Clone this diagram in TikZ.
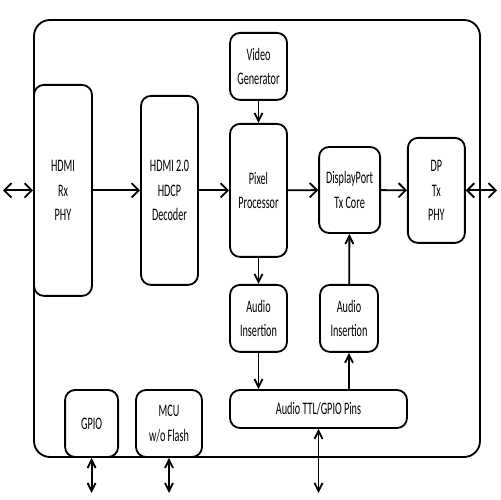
\documentclass[tikz,border=0pt]{standalone}
\usepackage{fontspec}
\setmainfont[FakeStretch=0.58]{Carlito}
\usetikzlibrary{arrows.meta}

\begin{document}
\begin{tikzpicture}[
    >={Straight Barb[length=1.8mm,width=3.6mm]},
    block/.style={draw,rounded corners=2.5mm,line width=1.3pt,align=center,inner sep=0,font=\fontsize{12.5}{17.5}\selectfont},
    tall/.style={block,minimum width=14.25mm},
    link/.style={line width=1.3pt},
    vlink/.style={link,>={Straight Barb[length=2mm,width=2mm]}}]

    \useasboundingbox (0,0) rectangle (12.5,12.5);
    \draw[link, rounded corners=4mm] (0.85,1.075) rectangle (12,12);

    \node[tall, minimum width=14.5mm, minimum height=52.75mm] (rxphy) at (1.575,7.74) {HDMI\\Rx\\PHY};
    \node[tall, minimum height=47.25mm] (hdcp) at (4.2375,7.74) {HDMI 2.0\\HDCP\\Decoder};
    \node[tall, minimum height=16.75mm] (vidgen) at (6.4625,10.84) {Video\\Generator};
    \node[tall, minimum height=33.25mm] (pixel) at (6.4625,7.74) {Pixel\\Processor};
    \node[tall, minimum height=16.75mm] (audl) at (6.4625,4.54) {Audio\\Insertion};
    \node[tall, minimum width=14.5mm, minimum height=16.75mm] (audr) at (8.725,4.54) {Audio\\Insertion};
    \node[tall, minimum width=15.25mm, minimum height=21.5mm] (txcore) at (8.74,7.75) {DisplayPort\\Tx Core};
    \node[tall, minimum height=26.25mm] (dpphy) at (10.91,7.74) {DP\\Tx\\PHY};
    \node[block, minimum width=44.25mm, minimum height=9.5mm] (pins) at (7.9625,2.275) {Audio TTL/GPIO Pins};
    \node[block, minimum width=13.25mm, minimum height=16.75mm] (gpio) at (2.29,1.9125) {GPIO};
    \node[block, minimum width=16.5mm, minimum height=16.75mm] (mcu) at (4.225,1.9125) {MCU\\w/o Flash};

    \coordinate (hdmiin) at (0.075,7.74);
    \coordinate (dpout) at (12.425,7.74);
    \coordinate (gpioio) at (2.29,0.175);
    \coordinate (mcuio) at (4.225,0.175);
    \coordinate (pinsio) at (7.9625,0.175);

    % main video path
    \draw[link, <->] (hdmiin) -- (rxphy.west);
    \draw[link, ->] (rxphy) -- (hdcp);
    \draw[link, ->] (hdcp) -- (pixel);
    \draw[link, ->] (pixel) -- (txcore);
    \draw[link, ->] (txcore) -- (dpphy);
    \draw[link, <->] (dpphy.east) -- (dpout);

    % audio
    \draw[vlink, ->] (vidgen) -- (pixel);
    \draw[vlink, ->] (pixel) -- (audl);
    \draw[vlink, ->] (audl.south) -- (audl.south |- pins.north);
    \draw[vlink, ->] (audr.south |- pins.north) -- (audr.south);
    \draw[vlink, ->] (audr) -- (txcore);

    % pins
    \draw[vlink, <->] (gpio.south) -- (gpioio);
    \draw[vlink, <->] (mcu.south) -- (mcuio);
    \draw[vlink, <->] (pins.south) -- (pinsio);
\end{tikzpicture}
\end{document}
